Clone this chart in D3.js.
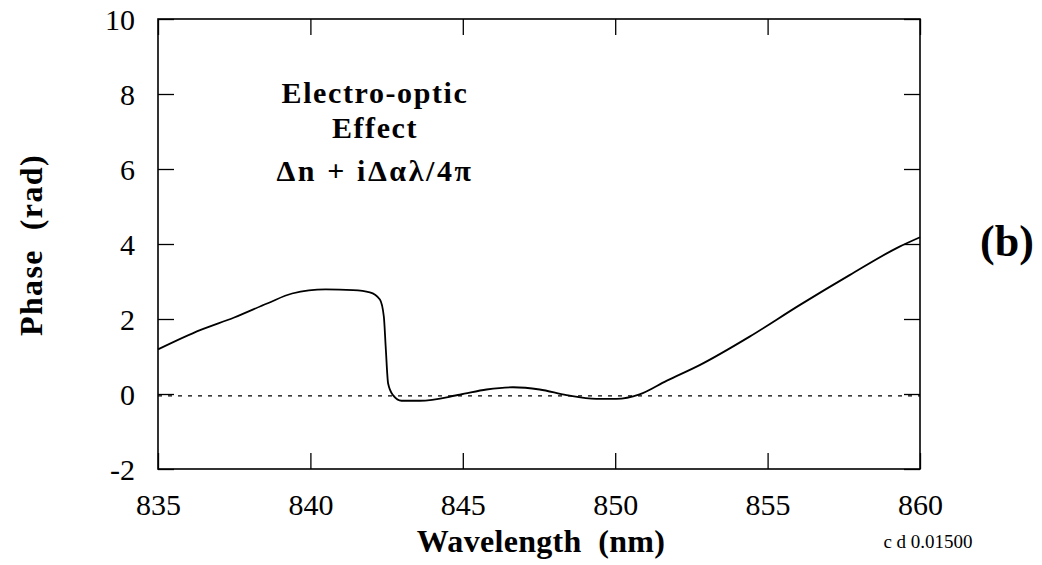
<!DOCTYPE html>
<html>
<head>
<meta charset="utf-8">
<script src="https://cdn.jsdelivr.net/npm/d3@7"></script>
<style>
  html, body { margin: 0; padding: 0; background: #fff; }
  svg text { font-family: "Liberation Serif", "Times New Roman", "DejaVu Serif", serif; fill: #000; }
</style>
</head>
<body>
<svg id="chart" width="1042" height="565"></svg>
<script>
// ---- data ----
const wavelength = [835.0, 836.4, 837.5, 838.6, 839.4, 840.5, 841.4, 841.95, 842.28, 842.41, 842.47, 842.55, 842.71, 842.99, 843.59, 844.9, 845.78, 846.65, 847.52, 848.4, 849.38, 850.04, 850.8, 851.68, 852.77, 854.41, 856.05, 857.69, 859.33, 860.0];
const phase      = [1.19, 1.71, 2.04, 2.42, 2.68, 2.79, 2.77, 2.71, 2.52, 2.06, 1.26, 0.28, -0.03, -0.18, -0.18, -0.02, 0.12, 0.18, 0.12, -0.03, -0.13, -0.13, -0.01, 0.35, 0.77, 1.53, 2.37, 3.17, 3.93, 4.18];
const xTicks = [835, 840, 845, 850, 855, 860];
const yTicks = [-2, 0, 2, 4, 6, 8, 10];
const refLevel = -0.05;
const annotationLines = ["Electro-optic", "Effect", "\u0394n + i\u0394\u03b1\u03bb/4\u03c0"];

const serif = '"Liberation Serif", "Times New Roman", "DejaVu Serif", serif';

// ---- layout ----
const svg = d3.select("#chart");
const L = 158, T = 19, R = 920, B = 469;
const x = d3.scaleLinear().domain([835, 860]).range([L, R]);
const y = d3.scaleLinear().domain([-2, 10]).range([B, T]);

// reference dashed line
svg.append("line")
  .attr("x1", x(835)).attr("x2", x(860))
  .attr("y1", y(refLevel)).attr("y2", y(refLevel))
  .attr("stroke", "#000").attr("stroke-width", 1.3)
  .attr("stroke-dasharray", "4,6");

// axes
const tl = 16;
const fmt = d => String(d);
const gB = svg.append("g").attr("transform", `translate(0,${B})`)
  .call(d3.axisBottom(x).tickValues(xTicks).tickSize(-tl).tickPadding(25).tickFormat(fmt));
const gL = svg.append("g").attr("transform", `translate(${L},0)`)
  .call(d3.axisLeft(y).tickValues(yTicks).tickSize(-tl).tickPadding(23).tickFormat(fmt));
const gT = svg.append("g").attr("transform", `translate(0,${T})`)
  .call(d3.axisTop(x).tickValues(xTicks).tickSize(-tl).tickFormat(""));
const gR = svg.append("g").attr("transform", `translate(${R},0)`)
  .call(d3.axisRight(y).tickValues(yTicks).tickSize(-tl).tickFormat(""));
[gB, gL, gT, gR].forEach(g => {
  g.attr("font-family", serif).attr("font-size", 30);
  g.select(".domain").remove();
  g.selectAll(".tick line").attr("stroke", "#000").attr("stroke-width", 1.3);
  g.selectAll(".tick text").attr("fill", "#000")
    .attr("font-family", serif).attr("font-size", 30);
});
gL.selectAll(".tick text").attr("dy", "0.35em");

// frame
svg.append("rect")
  .attr("x", L).attr("y", T).attr("width", R - L).attr("height", B - T)
  .attr("fill", "none").attr("stroke", "#000").attr("stroke-width", 1.6);

// curve
const pts = wavelength.map((w, i) => [w, phase[i]]);
svg.append("path")
  .datum(pts)
  .attr("fill", "none").attr("stroke", "#000").attr("stroke-width", 1.8)
  .attr("d", d3.line().x(d => x(d[0])).y(d => y(d[1])).curve(d3.curveMonotoneX));

function label(xp, yp, txt, size, bold, anchor, spacing) {
  return svg.append("text")
    .attr("x", xp).attr("y", yp)
    .attr("text-anchor", anchor || "middle")
    .attr("font-family", serif)
    .attr("font-size", size)
    .attr("font-weight", bold ? "bold" : "normal")
    .attr("letter-spacing", spacing || 0)
    .attr("xml:space", "preserve")
    .style("white-space", "pre")
    .text(txt);
}

// axis titles
label(541, 552, "Wavelength  (nm)", 32, true, "middle", 0.3);
label(0, 0, "Phase  (rad)", 32, true, "middle", 1.4).attr("transform", "translate(42,245) rotate(-90)");

// annotation
const annY = [103, 138, 181];
const annSpacing = [1.6, 1.6, 2.6];
annotationLines.forEach((t, i) => label(375, annY[i], t, 30, true, "middle", annSpacing[i]));

// panel label
label(1007, 256, "(b)", 44, true);

// footnote
label(928, 548, "c d 0.01500", 19, false);
</script>
</body>
</html>
